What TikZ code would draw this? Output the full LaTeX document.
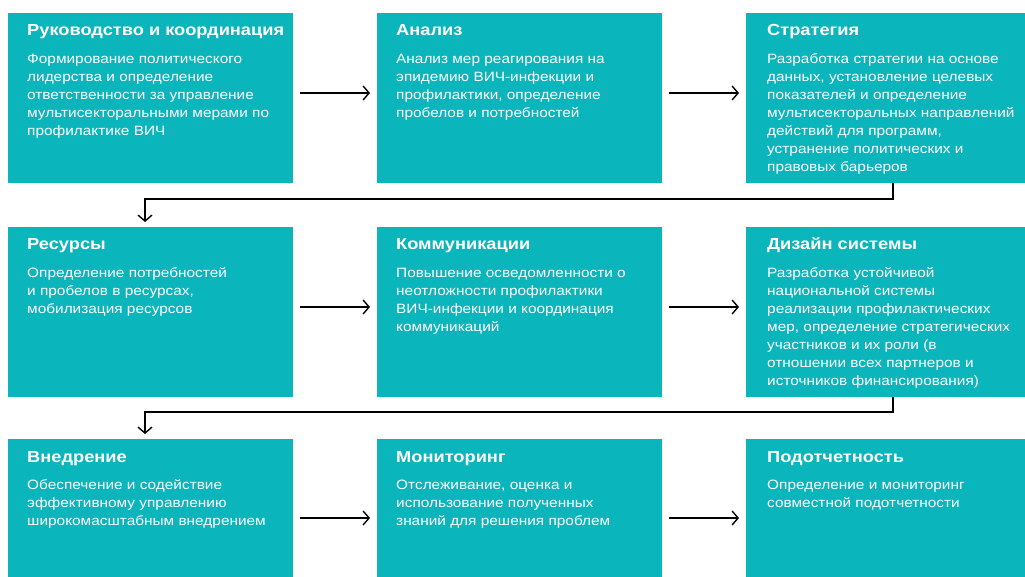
\documentclass[tikz,border=0pt]{standalone}
\usepackage{fontspec}
\setmainfont[FakeStretch=1.14]{Liberation Sans}
\usetikzlibrary{positioning}
\usetikzlibrary{arrows.meta}
\usepackage{xcolor}
\definecolor{boxteal}{HTML}{0BB5BC}

\begin{document}
\begin{tikzpicture}[x=1pt, y=-1pt,
    box/.style={anchor=north west, fill=boxteal, minimum width=285pt, minimum height=170pt, inner sep=0pt, outer sep=0pt},
    head/.style={anchor=base west, text=white, inner sep=0pt, font=\fontsize{16}{19}\selectfont\bfseries},
    body/.style={anchor=north west, text=white, inner sep=0pt, align=left, font=\fontsize{13.5}{18}\selectfont},
    arr/.style={-{Straight Barb[length=6pt,width=14pt]}, line width=1.4pt, shorten <=7pt, shorten >=7pt},
    turn/.style={arr, shorten <=0pt, shorten >=5pt}]
    \useasboundingbox (0,0) rectangle (1025,577);
    \clip (0,0) rectangle (1025,577);

    % boxes
    \node[box] (lead) at (8,13) {};
    \node[box] (anal) at (377,13) {};
    \node[box] (strat) at (746,13) {};
    \node[box] (res) at (8,227) {};
    \node[box] (comm) at (377,227) {};
    \node[box] (design) at (746,227) {};
    \node[box] (impl) at (8,439) {};
    \node[box] (mon) at (377,439) {};
    \node[box] (acc) at (746,439) {};

    % titles
    \node[head] (leadT) at ([xshift=19pt,yshift=-23pt]lead.north west) {Руководство и координация};
    \node[head] (analT) at ([xshift=19pt,yshift=-23pt]anal.north west) {Анализ};
    \node[head] (stratT) at ([xshift=21pt,yshift=-23pt]strat.north west) {Стратегия};
    \node[head] (resT) at ([xshift=19pt,yshift=-23pt]res.north west) {Ресурсы};
    \node[head] (commT) at ([xshift=19pt,yshift=-23pt]comm.north west) {Коммуникации};
    \node[head] (designT) at ([xshift=21pt,yshift=-23pt]design.north west) {Дизайн системы};
    \node[head] (implT) at ([xshift=19pt,yshift=-23pt]impl.north west) {Внедрение};
    \node[head] (monT) at ([xshift=19pt,yshift=-23pt]mon.north west) {Мониторинг};
    \node[head] (accT) at ([xshift=21pt,yshift=-23pt]acc.north west) {Подотчетность};

    % texts (first baseline 27pt below the title)
    \node[body] (leadB) at ([yshift=-14.4pt]leadT.base west) {\strut Формирование политического\\лидерства и определение\\ответственности за управление\\мультисекторальными мерами по\\профилактике ВИЧ};
    \node[body] (analB) at ([yshift=-14.4pt]analT.base west) {\strut Анализ мер реагирования на\\эпидемию ВИЧ-инфекции и\\профилактики, определение\\пробелов и потребностей};
    \node[body] (stratB) at ([yshift=-14.4pt]stratT.base west) {\strut Разработка стратегии на основе\\данных, установление целевых\\показателей и определение\\мультисекторальных направлений\\действий для программ,\\устранение политических и\\правовых барьеров};
    \node[body] (resB) at ([yshift=-14.4pt]resT.base west) {\strut Определение потребностей\\и пробелов в ресурсах,\\мобилизация ресурсов};
    \node[body] (commB) at ([yshift=-14.4pt]commT.base west) {\strut Повышение осведомленности о\\неотложности профилактики\\ВИЧ-инфекции и координация\\коммуникаций};
    \node[body] (designB) at ([yshift=-14.4pt]designT.base west) {\strut Разработка устойчивой\\национальной системы\\реализации профилактических\\мер, определение стратегических\\участников и их роли (в\\отношении всех партнеров и\\источников финансирования)};
    \node[body] (implB) at ([yshift=-14.4pt]implT.base west) {\strut Обеспечение и содействие\\эффективному управлению\\широкомасштабным внедрением};
    \node[body] (monB) at ([yshift=-14.4pt]monT.base west) {\strut Отслеживание, оценка и\\использование полученных\\знаний для решения проблем};
    \node[body] (accB) at ([yshift=-14.4pt]accT.base west) {\strut Определение и мониторинг\\совместной подотчетности};

    % arrows
    \draw[arr] ([yshift=5pt]lead.east) -- ([yshift=5pt]anal.west);
    \draw[arr] ([yshift=5pt]anal.east) -- ([yshift=5pt]strat.west);
    \draw[arr] ([yshift=5pt]res.east) -- ([yshift=5pt]comm.west);
    \draw[arr] ([yshift=5pt]comm.east) -- ([yshift=5pt]design.west);
    \draw[arr] ([yshift=-79pt]impl.north east) -- ([yshift=-79pt]mon.north west);
    \draw[arr] ([yshift=-79pt]mon.north east) -- ([yshift=-79pt]acc.north west);
    \draw[turn] ([xshift=4.5pt]strat.south) -- ++(0,16) -| ([xshift=-5.5pt]res.north);
    \draw[turn] ([xshift=4.5pt]design.south) -- ++(0,15) -| ([xshift=-5.5pt]impl.north);
\end{tikzpicture}
\end{document}
